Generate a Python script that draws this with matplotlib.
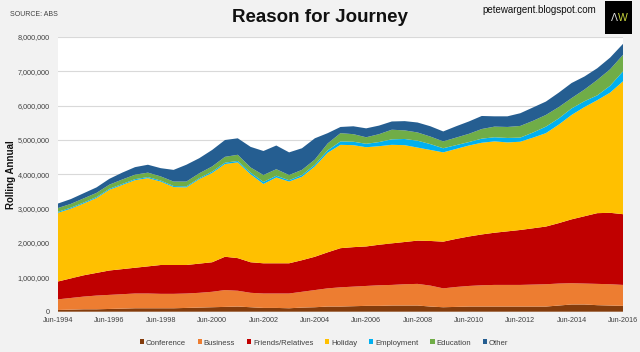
import numpy as np
import pandas as pd
import matplotlib
matplotlib.use("Agg")
import matplotlib.pyplot as plt
from matplotlib.patches import Rectangle

# half-yearly readings, Jun-1994 .. Jun-2016, in thousands
dates = pd.date_range("1994-06-01", "2016-06-01", freq="6MS")

conference = [50, 60, 70, 70, 80, 90, 100, 100, 100, 100, 110, 120, 130, 140, 150,
              130, 110, 110, 100, 120, 130, 150, 150, 160, 170, 170, 180, 180, 180, 150,
              130, 140, 150, 150, 150, 150, 150, 150, 150, 180, 210, 210, 190, 180, 170]
business = [310, 340, 370, 400, 410, 420, 430, 430, 420, 420, 420, 430, 450, 490, 460,
            420, 420, 420, 430, 460, 500, 530, 560, 570, 580, 600, 600, 620, 630, 610,
            550, 580, 600, 620, 630, 630, 630, 640, 650, 640, 620, 610, 620, 620, 610]
friends = [520, 570, 620, 660, 710, 730, 750, 790, 840, 840, 830, 850, 860, 970, 950,
           890, 880, 880, 880, 920, 970, 1050, 1140, 1150, 1150, 1180, 1210, 1230, 1260, 1300,
           1360, 1400, 1440, 1480, 1520, 1560, 1600, 1640, 1680, 1760, 1860, 1960, 2060, 2080, 2060]
holiday = [2000, 2030, 2090, 2180, 2350, 2450, 2550, 2570, 2430, 2270, 2260, 2460, 2600, 2700, 2790,
           2560, 2310, 2500, 2380, 2430, 2630, 2900, 3010, 2970, 2890, 2870, 2870, 2820, 2710, 2650,
           2600, 2620, 2650, 2670, 2660, 2590, 2570, 2640, 2720, 2870, 3040, 3180, 3290, 3500, 3870]
employment = [30, 30, 30, 30, 30, 30, 30, 30, 30, 30, 30, 30, 40, 40, 40,
              50, 60, 50, 40, 50, 50, 70, 100, 100, 100, 120, 160, 180, 200, 170,
              120, 110, 100, 120, 120, 130, 120, 150, 190, 180, 190, 170, 140, 200, 290]
education = [110, 110, 120, 120, 120, 130, 130, 130, 120, 130, 140, 140, 150, 170, 180,
             150, 200, 190, 150, 150, 150, 200, 240, 220, 190, 230, 280, 250, 240, 220,
             200, 220, 240, 280, 310, 320, 340, 340, 340, 330, 300, 340, 450, 480, 480]
other = [130, 140, 150, 160, 170, 200, 220, 230, 240, 340, 490, 440, 480, 490, 480,
         600, 700, 690, 660, 630, 620, 300, 180, 230, 260, 250, 240, 270, 290, 300,
         290, 330, 360, 380, 300, 310, 370, 390, 390, 420, 440, 380, 340, 340, 320]

labels = ["Conference", "Business", "Friends/Relatives", "Holiday",
          "Employment", "Education", "Other"]
colors = ["#843c0c", "#ed7d31", "#c00000", "#ffc000", "#00b0f0", "#70ad47", "#255e91"]

tick_years = list(range(1994, 2017, 2))
tick_labels = [f"Jun-{y}" for y in tick_years]

plt.rcParams["font.family"] = ["Liberation Sans", "DejaVu Sans"]

fig = plt.figure(figsize=(6.4, 3.52), dpi=100, facecolor="#f2f2f2")
ax = fig.add_axes([58 / 640, 1 - 311.7 / 352, 565 / 640, 274.7 / 352])
ax.set_facecolor("white")

series = [conference, business, friends, holiday, employment, education, other]
ys = [np.array(s) * 1000 for s in series]
ax.stackplot(dates, *ys, colors=colors, labels=labels, linewidth=0)

ax.set_xlim(dates[0], dates[-1])
ax.set_ylim(0, 8000000)
ax.set_yticks(np.arange(0, 8000001, 1000000))
ax.yaxis.set_major_formatter(matplotlib.ticker.FuncFormatter(lambda v, p: f"{int(v):,}"))
ax.set_xticks([pd.Timestamp(f"{y}-06-01") for y in tick_years])
ax.set_xticklabels(tick_labels)
ax.grid(axis="y", color="#d9d9d9", linewidth=0.8)
ax.set_axisbelow(True)
for s in ax.spines.values():
    s.set_visible(False)
ax.tick_params(length=0, labelsize=5.2, colors="#404040")
ax.tick_params(axis="x", pad=4)
ax.tick_params(axis="y", pad=6)

fig.text(11 / 640, 1 - 175 / 352, "Rolling Annual", rotation=90, ha="center",
         va="center", fontsize=7, fontweight="bold", color="#111111")

fig.text(0.5, 0.95, "Reason for Journey", ha="center", va="center",
         fontsize=13.5, fontweight="bold", color="#111111")
fig.text(10 / 640, 1 - 15 / 352, "SOURCE: ABS", fontsize=5, color="#404040",
         va="center")
fig.text(596 / 640, 1 - 10 / 352, "petewargent.blogspot.com", fontsize=7,
         ha="right", va="center", color="#111111")

# logo box
fig.patches.append(Rectangle((605 / 640, 1 - 34 / 352), 27 / 640, 33 / 352,
                             transform=fig.transFigure, facecolor="black", zorder=5))
fig.text(614 / 640, 1 - 18 / 352, "Λ", fontsize=7.5, color="#dddddd", ha="center",
         va="center", zorder=6)
fig.text(622.5 / 640, 1 - 18 / 352, "W", fontsize=7.5, color="#c8d43c", ha="center",
         va="center", zorder=6)

leg = fig.legend(*ax.get_legend_handles_labels(), loc="center",
                 bbox_to_anchor=(324 / 640, 1 - 343 / 352), ncol=7, frameon=False,
                 handlelength=0.55, handleheight=0.55, handletextpad=0.25,
                 columnspacing=1.5, prop={"size": 5.6})
for t in leg.get_texts():
    t.set_color("#404040")

fig.savefig("out.png", dpi=100, facecolor=fig.get_facecolor())
